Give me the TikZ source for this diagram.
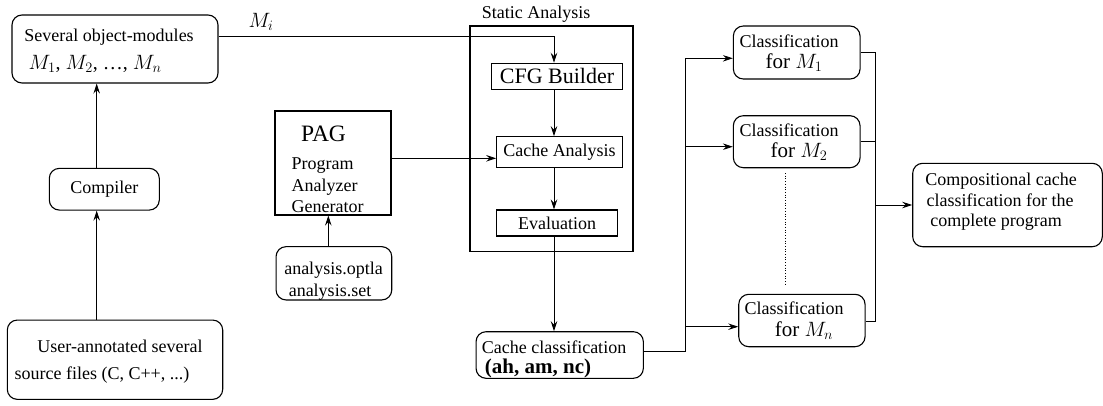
\documentclass[tikz,border=0pt]{standalone}
\usepackage{fontspec}
\setmainfont{Liberation Serif}
\usetikzlibrary{arrows.meta}
\begin{document}
\begin{tikzpicture}[x=1pt,y=-1pt,
  every node/.style={font=\fontsize{18}{21}\selectfont},
  rbox/.style={draw,rounded corners=10pt,line width=1.1pt,inner sep=0pt,align=center},
  sbox/.style={draw,line width=1.1pt,inner sep=0pt,align=center},
  conn/.style={line width=0.8pt},
  arr/.style={conn,-{Stealth[length=10pt,width=6.5pt,inset=3.5pt]}},
  bigf/.style={font=\fontsize{21}{23}\selectfont},
  lbl/.style={inner sep=0pt,anchor=base}
]
\useasboundingbox (0,0) rectangle (1103,405);
% left column
\node[rbox,minimum width=206pt,minimum height=68pt] (om) at (115,49) {};
\node[lbl] (omt1) at (109,41) {Several object-modules};
\node[lbl,font=\fontsize{20}{22}\selectfont] (omt2) at (95,69) {$M_1$, $M_2$, \ldots, $M_n$};
\node[rbox,minimum width=110pt,minimum height=41.7pt] (comp) at (104.3,189.2) {Compiler};
\node[rbox,minimum width=215.4pt,minimum height=79.3pt] (user) at (115,359.7) {};
\node[lbl] (ut1) at (120,352.5) {User-annotated several};
\node[lbl] (ut2) at (102,379) {source files (C, C++, ...)};
% PAG
\node[sbox,minimum width=116pt,minimum height=104pt] (pag) at (333,163) {};
\node[lbl,font=\fontsize{23.5}{25}\selectfont] (pagt) at (323.5,141) {PAG};
\node[lbl,anchor=base west] (pg1) at (291.5,169) {Program};
\node[lbl,anchor=base west] (pg2) at (291.5,191) {Analyzer};
\node[lbl,anchor=base west] (pg3) at (291.5,212) {Generator};
\node[rbox,minimum width=115.7pt,minimum height=53.3pt] (an) at (333.9,273.3) {};
\node[lbl] (ant1) at (333.5,274) {analysis.optla};
\node[lbl] (ant2) at (330,296) {analysis.set};
% static analysis
\node[sbox,line width=1.4pt,minimum width=163pt,minimum height=225.7pt] (sa) at (551.5,138.85) {};
\node[lbl] (salbl) at (536,18) {Static Analysis};
\node[sbox,minimum width=130.3pt,minimum height=26pt,font=\fontsize{22}{24}\selectfont] (cfg) at (557,76.3) {CFG Builder};
\node[sbox,minimum width=125.6pt,minimum height=31pt] (ca) at (559.5,152.2) {Cache Analysis};
\node[sbox,minimum width=120.6pt,minimum height=26pt] (ev) at (557,223) {Evaluation};
\node[rbox,minimum width=167.3pt,minimum height=46.6pt] (cc) at (559.7,355) {};
\node[lbl] (cct1) at (554,353) {Cache classification};
\node[lbl,font=\fontsize{21}{23}\selectfont\bfseries] (cct2) at (538,373) {(ah, am, nc)};
% classification boxes
\node[rbox,minimum width=126.7pt,minimum height=53pt] (c1) at (796.7,52.5) {};
\node[lbl] (c1a) at (789,47) {Classification};
\node[lbl,bigf] (c1b) at (794,68) {for $M_1$};
\node[rbox,minimum width=126.7pt,minimum height=52pt] (c2) at (796.7,141.7) {};
\node[lbl] (c2a) at (789,136) {Classification};
\node[lbl,bigf] (c2b) at (799,157) {for $M_2$};
\node[rbox,minimum width=126.3pt,minimum height=52.4pt] (cn) at (801.9,320.5) {};
\node[lbl] (cna) at (794,314) {Classification};
\node[lbl,bigf] (cnb) at (804,336) {for $M_n$};
\node[rbox,minimum width=189.6pt,minimum height=83.4pt] (cp) at (1007.5,205) {};
\node[lbl] (cp1) at (1001,185) {Compositional cache};
\node[lbl] (cp2) at (1000,206) {classification for the};
\node[lbl] (cp3) at (996,226) {complete program};
% Mi label
\node[lbl,font=\fontsize{20}{22}\selectfont] (milbl) at (261,27) {$M_i$};
% connectors
\coordinate (mi) at (554,36.7);
\draw[arr] (om.east |- mi) -- (mi) -- (mi |- cfg.north);
\draw[arr] (mi |- cfg.south) -- (mi |- ca.north);
\draw[arr] (mi |- ca.south) -- (mi |- ev.north);
\draw[arr] (mi |- ev.south) -- (mi |- cc.north);
\coordinate (pgy) at (0,158.3);
\draw[arr] (pag.east |- pgy) -- (ca.west |- pgy);
\coordinate (ax) at (328.3,0);
\draw[arr] (ax |- an.north) -- (ax |- pag.south);
\coordinate (cx) at (96.7,0);
\draw[arr] (cx |- user.north) -- (cx |- comp.south);
\draw[arr] (cx |- comp.north) -- (cx |- om.south);
% fan out
\coordinate (fo) at (685.7,351.7);
\coordinate (f1) at (685.7,58.3);
\coordinate (f2) at (685.7,146.7);
\coordinate (f3) at (685.7,326.7);
\draw[conn] (cc.east |- fo) -- (fo) -- (f1);
\draw[arr] (f1) -- (c1.west |- f1);
\draw[arr] (f2) -- (c2.west |- f2);
\draw[arr] (f3) -- (cn.west |- f3);
% fan in
\coordinate (g1) at (875.7,52.3);
\coordinate (g2) at (875.7,141.7);
\coordinate (g3) at (875.7,321);
\coordinate (gm) at (875.7,205);
\draw[conn] (c1.east |- g1) -- (g1) -- (g3) -- (cn.east |- g3);
\draw[conn] (c2.east |- g2) -- (g2);
\draw[arr] (gm) -- (cp.west |- gm);
% dotted
\coordinate (d1) at (785.7,173);
\coordinate (d2) at (785.7,285);
\draw[dotted,line width=0.7pt] (d1) -- (d2);
\end{tikzpicture}
\end{document}
